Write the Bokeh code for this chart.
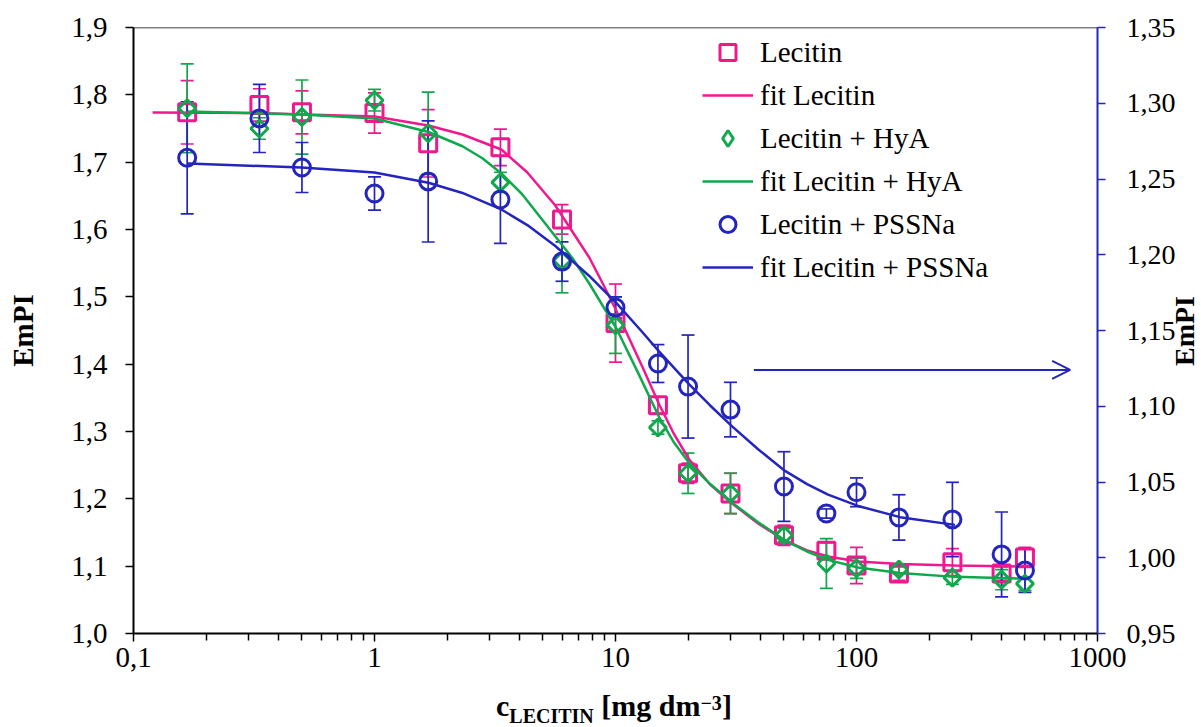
import math
from bokeh.plotting import figure
from bokeh.layouts import column, row
from bokeh.models import (Range1d, LinearAxis, FixedTicker, CustomJSTickFormatter,
                          Whisker, TeeHead, ColumnDataSource, Legend, LegendItem,
                          Arrow, OpenHead, Span, Div)
from bokeh.embed import file_html
from bokeh.resources import INLINE

# ---------------- data ----------------
conc = [0.167, 0.333, 0.5, 1, 1.67, 3.33, 6, 10, 15, 20, 30, 50, 75, 100, 150, 250, 400, 500]

lecitin = [1.774, 1.785, 1.774, 1.773, 1.728, 1.722, 1.615, 1.461, 1.339, 1.238,
           1.208, 1.146, 1.123, 1.101, 1.089, 1.106, 1.089, 1.113]
lecitin_err = [0.047, 0.024, 0.032, 0.030, 0.050, 0.027, 0.022, 0.058, 0.012, 0.015,
               0.030, 0.015, 0.012, 0.027, 0.010, 0.020, 0.010, 0.015]

hya = [1.780, 1.750, 1.767, 1.792, 1.743, 1.670, 1.554, 1.458, 1.306, 1.238,
       1.208, 1.146, 1.104, 1.097, 1.095, 1.083, 1.080, 1.074]
hya_err = [0.066, 0.016, 0.055, 0.016, 0.061, 0.015, 0.048, 0.042, 0.010, 0.030,
           0.030, 0.010, 0.037, 0.015, 0.006, 0.010, 0.015, 0.010]

# PSSNa is plotted against the right-hand axis
pssna = [1.264, 1.290, 1.2576, 1.2404, 1.2484, 1.2365, 1.1955, 1.1652, 1.1282, 1.113,
         1.0978, 1.047, 1.0292, 1.0432, 1.0266, 1.0253, 1.0022, 0.9916]
pssna_err = [0.037, 0.0225, 0.0165, 0.011, 0.040, 0.029, 0.013, 0.007, 0.0125, 0.034,
             0.018, 0.023, 0.003, 0.0095, 0.015, 0.0245, 0.028, 0.0145]

# fit curves
fit_lec_x = [0.12, 0.312, 1, 1.674, 2.317, 3.361, 4.308, 5.627, 6.619, 7.783, 8.812,
             10.07, 11.40, 12.91, 15.18, 17.52, 20.22, 24.70, 30.47, 39.06, 50.53,
             62.35, 76.20, 101.4, 151.5, 256.1, 508.9]
fit_lec_y = [1.7738, 1.7731, 1.7679, 1.7545, 1.7411, 1.7188, 1.6847, 1.6357, 1.5971,
             1.5584, 1.5213, 1.4797, 1.4381, 1.3966, 1.3401, 1.2956, 1.2584, 1.2213,
             1.1931, 1.1634, 1.1381, 1.1233, 1.1144, 1.1069, 1.1032, 1.1010, 1.0995]

fit_hya_x = [0.1679, 0.4982, 1, 1.674, 2.317, 2.804, 3.361, 4.107, 5.469, 6.619, 7.783,
             10.07, 12.31, 15.18, 17.52, 20.22, 24.70, 30.47, 39.06, 50.53, 62.35,
             76.20, 101.4, 151.5, 256.1, 508.9]
fit_hya_y = [1.7753, 1.7708, 1.7649, 1.7448, 1.7236, 1.7058, 1.6832, 1.6520, 1.5956,
             1.5576, 1.5198, 1.4536, 1.3897, 1.3211, 1.2832, 1.2532, 1.2220, 1.1943,
             1.1653, 1.1381, 1.1218, 1.1093, 1.0980, 1.0899, 1.0841, 1.0814]

fit_pss_x = [0.1679, 0.4982, 1, 1.674, 2.317, 3.361, 4.308, 5.627, 7.783, 10.07, 12.91,
             15.18, 20.22, 24.70, 30.47, 39.06, 50.53, 62.35, 76.20, 101.4, 151.5, 256.1]
fit_pss_y = [1.2602, 1.2576, 1.2543, 1.2475, 1.2408, 1.2299, 1.2196, 1.2058, 1.1860,
             1.1682, 1.1490, 1.1361, 1.1144, 1.1005, 1.0867, 1.0716, 1.0573, 1.0486,
             1.0417, 1.0342, 1.0268, 1.0217]

x_ticks = [0.1, 1, 10, 100, 1000]
y_left_ticks = [1.0, 1.1, 1.2, 1.3, 1.4, 1.5, 1.6, 1.7, 1.8, 1.9]
y_right_ticks = [0.95, 1.00, 1.05, 1.10, 1.15, 1.20, 1.25, 1.30, 1.35]

labels = ["Lecitin", "fit Lecitin", "Lecitin + HyA", "fit Lecitin + HyA",
          "Lecitin + PSSNa", "fit Lecitin + PSSNa"]

# arrow pointing to the right axis (data coordinates, right axis)
arrow_x0, arrow_x1, arrow_y = 37.5, 770, 1.124

# ---------------- styling ----------------
FONT = "Liberation Serif"
PINK = "#F0188F"
GREEN = "#10A84C"
BLUE = "#2424BE"

p = figure(width=1178, height=682, x_axis_type="log",
           x_range=Range1d(0.1, 1000), y_range=Range1d(1.0, 1.9),
           output_backend="svg", toolbar_location=None,
           min_border_left=133, min_border_right=80,
           min_border_top=27, min_border_bottom=49)
p.extra_y_ranges = {"right": Range1d(0.95, 1.35)}
p.xgrid.visible = False
p.ygrid.visible = False
p.outline_line_color = None

# x axis
xa = p.xaxis[0]
minor = [m * d for d in (0.1, 1, 10, 100) for m in range(2, 10)]
xa.ticker = FixedTicker(ticks=x_ticks, minor_ticks=minor)
xa.formatter = CustomJSTickFormatter(
    code="return tick < 1 ? String(tick).replace('.', ',') : tick.toFixed(0);")
xa.axis_line_color = "black"
xa.axis_line_width = 2
xa.major_tick_line_width = 1.5
xa.minor_tick_line_width = 1.5
xa.major_tick_in = 0
xa.major_tick_out = 8
xa.minor_tick_in = 0
xa.minor_tick_out = 7
xa.major_label_text_font = FONT
xa.major_label_text_font_size = "29px"
xa.major_label_text_color = "black"
xa.major_label_standoff = 6

# left y axis
ya = p.yaxis[0]
ya.ticker = FixedTicker(ticks=y_left_ticks)
ya.formatter = CustomJSTickFormatter(code="return tick.toFixed(1).replace('.', ',');")
ya.axis_line_color = "black"
ya.axis_line_width = 2
ya.major_tick_line_width = 1.5
ya.major_tick_in = 0
ya.major_tick_out = 8
ya.minor_tick_in = 0
ya.minor_tick_out = 0
ya.major_label_text_font = FONT
ya.major_label_text_font_size = "29px"
ya.major_label_text_color = "black"
ya.major_label_standoff = 18
ya.axis_label = "EmPI"
ya.axis_label_text_font = FONT
ya.axis_label_text_font_size = "29px"
ya.axis_label_text_font_style = "bold"
ya.axis_label_text_color = "black"
ya.axis_label_standoff = 29

# right y axis
ra = LinearAxis(y_range_name="right")
ra.ticker = FixedTicker(ticks=y_right_ticks)
ra.formatter = CustomJSTickFormatter(code="return tick.toFixed(2).replace('.', ',');")
ra.axis_line_color = BLUE
ra.axis_line_width = 2
ra.major_tick_line_color = BLUE
ra.major_tick_line_width = 1.5
ra.major_tick_in = 0
ra.major_tick_out = 8
ra.minor_tick_in = 0
ra.minor_tick_out = 0
ra.major_label_text_font = FONT
ra.major_label_text_font_size = "28px"
ra.major_label_text_color = "black"
ra.major_label_standoff = 21
p.add_layout(ra, "right")

# top border
p.add_layout(Span(location=1.9, dimension="width", line_color="black", line_width=1.5))

# ---------------- series ----------------
def bars(y, err, color, range_name="default"):
    src = ColumnDataSource(dict(x=conc, lo=[a - e for a, e in zip(y, err)],
                                hi=[a + e for a, e in zip(y, err)]))
    w = Whisker(source=src, base="x", lower="lo", upper="hi", dimension="height",
                line_color=color, line_width=1.7,
                upper_head=TeeHead(size=13, line_color=color, line_width=1.7),
                lower_head=TeeHead(size=13, line_color=color, line_width=1.7),
                y_range_name=range_name)
    p.add_layout(w)

bars(lecitin, lecitin_err, PINK)
r_lec = p.scatter(conc, lecitin, marker="square", size=17, line_width=3,
                  line_color=PINK, fill_color=None)
r_lec_fit = p.line(fit_lec_x, fit_lec_y, line_color=PINK, line_width=2.5)

bars(hya, hya_err, GREEN)
r_hya = p.scatter(conc, hya, marker="square", angle=math.pi / 4, size=12, line_width=3,
                  line_color=GREEN, fill_color=None)
# legend swatch for the diamonds (the legend does not rotate markers); not drawn in the plot
r_hya_key = p.scatter(conc, hya, marker="diamond", size=16, line_width=3,
                      line_color=GREEN, fill_color=None, visible=False)
r_hya_fit = p.line(fit_hya_x, fit_hya_y, line_color=GREEN, line_width=2.5)

bars(pssna, pssna_err, BLUE, "right")
r_pss = p.scatter(conc, pssna, marker="circle", size=17, line_width=3,
                  line_color=BLUE, fill_color=None, y_range_name="right")
r_pss_fit = p.line(fit_pss_x, fit_pss_y, line_color=BLUE, line_width=2.5,
                   y_range_name="right")

# arrow
p.add_layout(Arrow(end=OpenHead(size=18, line_color=BLUE, line_width=2),
                   x_start=arrow_x0, y_start=arrow_y, x_end=arrow_x1, y_end=arrow_y,
                   line_color=BLUE, line_width=2, y_range_name="right"))

# legend
rends = [r_lec, r_lec_fit, r_hya_key, r_hya_fit, r_pss, r_pss_fit]
legend = Legend(items=[LegendItem(label=l, renderers=[r]) for l, r in zip(labels, rends)],
                location=(569, 346), glyph_width=51, glyph_height=40, spacing=3,
                label_standoff=7, padding=0, margin=0, border_line_color=None,
                background_fill_alpha=0, inactive_fill_alpha=0, label_text_font=FONT,
                label_text_font_size="29px", label_text_color="black")
p.add_layout(legend)

# right axis title (reads bottom-to-top)
right_title = Div(
    width=22, height=682, margin=0,
    text=("<div style=\"margin-top:295px; margin-left:-9px; width:31px; height:71px;"
          " writing-mode:vertical-rl; transform:rotate(180deg);"
          " font-family:'Liberation Serif'; font-weight:bold; font-size:28px;"
          " line-height:31px; white-space:nowrap; color:black;\">EmPI</div>"))

# x-axis title with subscript / superscript
bottom_title = Div(
    width=1200, height=44, margin=0,
    text=("<div style=\"padding-left:496px; padding-top:9px; font-family:'Liberation Serif';"
          " font-weight:bold; font-size:30px; line-height:30px; white-space:nowrap; color:black;\">"
          "c<span style=\"font-size:20px; line-height:20px; vertical-align:-7px;\">LECITIN</span>"
          " [mg dm<span style=\"font-size:20px; line-height:20px; vertical-align:6px;\">\u22123</span>]"
          "</div>"))

layout = column(row(p, right_title, spacing=0), bottom_title, spacing=0)
open("out.html", "w").write(file_html(layout, INLINE))
